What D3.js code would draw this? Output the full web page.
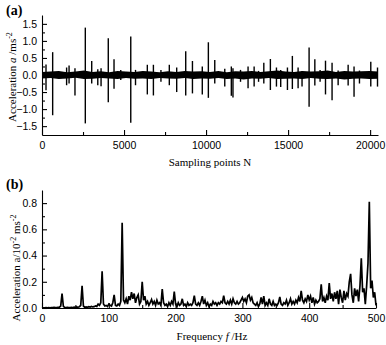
<!DOCTYPE html>
<html>
  <head>
    <meta charset="utf-8" />
    <title>Vibration signal and spectrum</title>
    <script src="https://d3js.org/d3.v7.min.js"></script>
    <style>
      body {
        margin: 0;
        background: #fff;
      }
      svg {
        display: block;
      }
      .tick text {
        font-family: "Liberation Sans Narrow", "Liberation Sans", Arial, sans-serif;
        font-size: 10.5px;
        fill: #000;
      }
      .title {
        font-family: "Liberation Serif", "Times New Roman", serif;
        font-size: 11px;
        fill: #000;
      }
      .panel {
        font-family: "Liberation Serif", "Times New Roman", serif;
        font-size: 14px;
        font-weight: bold;
      }
    </style>
  </head>
  <body>
    <svg width="386" height="345"></svg>

    <script>
      // (a) time signal: noise band every 512 samples + impulse spikes
      const bandN = d3.range(0, 20481, 512);
      const bandHi = [0.09,0.1,0.12,0.08,0.1,0.13,0.09,0.11,0.08,0.12,0.1,0.09,0.12,0.1,0.08,0.11,0.09,0.12,0.1,0.11,
        0.09,0.12,0.08,0.11,0.1,0.12,0.09,0.11,0.13,0.1,0.09,0.12,0.1,0.11,0.13,0.09,0.12,0.1,0.11,0.12,0.1];
      const bandLo = [-0.1,-0.09,-0.12,-0.1,-0.08,-0.12,-0.11,-0.09,-0.1,-0.12,-0.09,-0.11,-0.1,-0.12,-0.09,-0.1,-0.11,-0.09,-0.12,-0.1,
        -0.11,-0.09,-0.12,-0.1,-0.13,-0.1,-0.11,-0.09,-0.12,-0.11,-0.1,-0.12,-0.09,-0.11,-0.12,-0.1,-0.13,-0.11,-0.1,-0.12,-0.11];

      const spikeN = [244,650,1500,1650,2010,2640,3030,3400,3600,4040,4390,4800,5410,5700,6420,6790,7250,7760,8210,8760,
        9170,9770,10140,10530,11140,11540,11640,12100,12560,12930,13200,13520,13920,14290,14550,14960,15260,15610,15850,16280,
        16630,16950,17280,17680,18050,18660,19020,19350,20040,20450];
      const spikeHi = [0.31,0.67,0.22,0.28,0.2,1.39,0.41,0.17,0.2,1.08,0.46,0.15,1.13,0.15,0.3,0.3,0.15,0.3,0.22,0.7,
        0.41,0.25,0.96,0.44,0.18,0.25,0.2,0.15,0.25,0.25,0.12,0.36,0.47,0.22,0.15,0.22,0.56,0.22,0.12,0.81,
        0.46,0.15,0.42,0.36,0.13,0.3,0.25,0.13,0.39,0.22];
      const spikeLo = [-0.45,-1.18,-0.3,-0.25,-0.6,-1.42,-0.25,-0.3,-0.33,-0.8,-0.4,-0.15,-1.4,-0.3,-0.57,-0.6,-0.2,-0.3,-0.5,-0.6,
        -0.54,-0.57,-0.67,-0.25,-0.34,-0.61,-0.66,-0.2,-0.39,-0.34,-0.2,-0.25,-0.44,-0.34,-0.35,-0.44,-0.41,-0.39,-0.34,-0.93,
        -0.31,-0.2,-0.57,-0.74,-0.3,-0.31,-0.64,-0.25,-0.34,-0.34];

      // (b) spectrum, one value every 2 Hz (0..500)
      const freq = d3.range(0, 501, 2);
      const amp = [
        0,0.002,0.002,0.003,0.002,0.003,0.002,0.003,0.003,0.004,
        0.003,0.004,0.005,0.006,0.015,0.11,0.012,0.004,0.003,0.004,
        0.003,0.004,0.005,0.004,0.006,0.005,0.008,0.006,0.01,0.02,
        0.17,0.015,0.006,0.008,0.005,0.01,0.007,0.012,0.008,0.01,
        0.015,0.012,0.03,0.02,0.04,0.28,0.03,0.015,0.02,0.012,
        0.03,0.02,0.015,0.04,0.10,0.02,0.015,0.03,0.02,0.05,
        0.65,0.06,0.04,0.07,0.03,0.09,0.06,0.12,0.07,0.11,
        0.04,0.08,0.1,0.03,0.05,0.2,0.06,0.09,0.03,0.05,
        0.02,0.04,0.065,0.03,0.05,0.02,0.06,0.03,0.04,0.02,
        0.145,0.04,0.02,0.03,0.01,0.04,0.02,0.05,0.03,0.125,
        0.03,0.01,0.04,0.02,0.03,0.07,0.02,0.03,0.01,0.04,
        0.02,0.03,0.02,0.04,0.095,0.03,0.02,0.04,0.02,0.05,
        0.09,0.03,0.06,0.02,0.04,0.01,0.03,0.02,0.05,0.03,
        0.04,0.02,0.04,0.03,0.05,0.04,0.095,0.04,0.03,0.05,
        0.03,0.06,0.03,0.07,0.04,0.03,0.05,0.03,0.04,0.06,
        0.08,0.05,0.07,0.04,0.09,0.1,0.06,0.08,0.04,0.03,
        0.02,0.04,0.01,0.03,0.08,0.03,0.09,0.02,0.04,0.02,
        0.07,0.03,0.02,0.05,0.02,0.03,0.02,0.04,0.085,0.03,
        0.02,0.04,0.03,0.06,0.02,0.04,0.07,0.03,0.05,0.03,
        0.06,0.04,0.08,0.05,0.13,0.06,0.04,0.07,0.05,0.1,
        0.06,0.09,0.04,0.08,0.03,0.06,0.04,0.05,0.07,0.18,
        0.05,0.08,0.04,0.09,0.06,0.19,0.07,0.11,0.05,0.12,
        0.07,0.13,0.03,0.14,0.08,0.04,0.13,0.06,0.11,0.09,
        0.2,0.26,0.1,0.04,0.15,0.09,0.14,0.05,0.17,0.38,
        0.12,0.15,0.03,0.17,0.34,0.81,0.15,0.21,0.08,0.12,
        0.02
      ];

      const svg = d3.select("svg");

      function drawAxes(x, y, xMajor, xMinor, yMajor, yMinor, yFmt) {
        const xa = svg.append("g").attr("transform", `translate(0, ${y.range()[0]})`);
        xa.call(d3.axisBottom(x).tickValues(xMajor).tickSizeInner(-5).tickSizeOuter(0).tickPadding(7).tickFormat(d3.format("d")));
        const xm = svg.append("g").attr("transform", `translate(0, ${y.range()[0]})`);
        xm.call(d3.axisBottom(x).tickValues(xMinor).tickSizeInner(-3).tickSizeOuter(0).tickFormat(""));
        xm.select(".domain").remove();

        const ya = svg.append("g").attr("transform", `translate(${x.range()[0]}, 0)`);
        ya.call(d3.axisLeft(y).tickValues(yMajor).tickSizeInner(-5).tickSizeOuter(0).tickPadding(5).tickFormat(yFmt));
        const ym = svg.append("g").attr("transform", `translate(${x.range()[0]}, 0)`);
        ym.call(d3.axisLeft(y).tickValues(yMinor).tickSizeInner(-3).tickSizeOuter(0).tickFormat(""));
        ym.select(".domain").remove();

        svg.selectAll(".domain, .tick line").attr("stroke", "#000").attr("stroke-width", 1.1);
      }

      // ---- panel (a)
      const xA = d3.scaleLinear().domain([0, 20480]).range([42, 378]);
      const yA = d3.scaleLinear().domain([-1.76, 1.76]).range([135, 15]);

      svg.append("path")
        .datum(d3.range(bandN.length))
        .attr("fill", "#000")
        .attr("d", d3.area().x(i => xA(bandN[i])).y0(i => yA(bandLo[i])).y1(i => yA(bandHi[i])));

      svg.append("g").selectAll("line")
        .data(d3.range(spikeN.length))
        .join("line")
        .attr("x1", i => xA(spikeN[i]))
        .attr("x2", i => xA(spikeN[i]))
        .attr("y1", i => yA(spikeLo[i]))
        .attr("y2", i => yA(spikeHi[i]))
        .attr("stroke", "#000")
        .attr("stroke-width", 1.4);

      drawAxes(xA, yA,
        [0, 5000, 10000, 15000, 20000], [2500, 7500, 12500, 17500],
        [-1.5, -1, -0.5, 0, 0.5, 1, 1.5], [-1.25, -0.75, -0.25, 0.25, 0.75, 1.25],
        d3.format(".1f"));

      // ---- panel (b)
      const xB = d3.scaleLinear().domain([0, 500]).range([42, 376]);
      const yB = d3.scaleLinear().domain([0, 0.9]).range([308, 190]);

      svg.append("path")
        .datum(d3.range(freq.length))
        .attr("fill", "none")
        .attr("stroke", "#000")
        .attr("stroke-width", 1.7)
        .attr("stroke-linejoin", "miter")
        .attr("d", d3.line().x(i => xB(freq[i])).y(i => yB(amp[i])));

      drawAxes(xB, yB,
        [0, 100, 200, 300, 400, 500], [50, 150, 250, 350, 450],
        [0, 0.2, 0.4, 0.6, 0.8], [0.1, 0.3, 0.5, 0.7],
        d3.format(".1f"));

      // ---- labels
      svg.append("text").attr("class", "panel").attr("x", 6).attr("y", 15).text("(a)");
      svg.append("text").attr("class", "panel").attr("x", 6).attr("y", 189).text("(b)");

      svg.append("text").attr("class", "title").attr("x", 210).attr("y", 166)
        .attr("text-anchor", "middle").text("Sampling points N");

      const fx = svg.append("text").attr("class", "title").attr("x", 212).attr("y", 340).attr("text-anchor", "middle");
      fx.append("tspan").text("Frequency ");
      fx.append("tspan").attr("font-style", "italic").text("f");
      fx.append("tspan").text(" /Hz");

      const ya = svg.append("text").attr("class", "title").attr("text-anchor", "middle")
        .attr("transform", "translate(16, 77) rotate(-90)");
      ya.append("tspan").text("Acceleration ");
      ya.append("tspan").attr("font-style", "italic").text("a");
      ya.append("tspan").text(" /ms");
      ya.append("tspan").attr("dy", -4).attr("font-size", "8px").text("-2");

      const yb = svg.append("text").attr("class", "title").attr("text-anchor", "middle")
        .attr("transform", "translate(20, 268) rotate(-90)");
      yb.append("tspan").text("Acceleration a/10");
      yb.append("tspan").attr("dy", -4).attr("font-size", "8px").text("-2");
      yb.append("tspan").attr("dy", 4).text(" ms");
      yb.append("tspan").attr("dy", -4).attr("font-size", "8px").text("-2");
    </script>
  </body>
</html>
